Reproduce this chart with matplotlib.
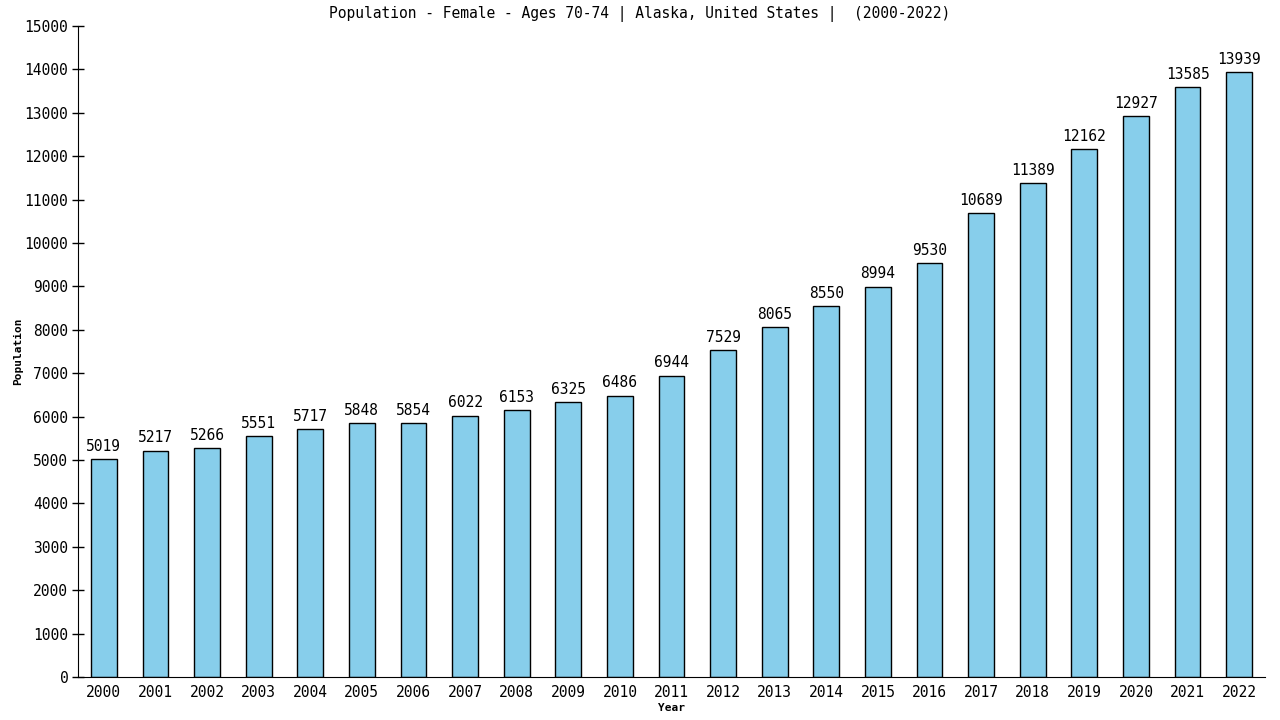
import matplotlib
matplotlib.use("Agg")
import matplotlib.pyplot as plt

years = [str(y) for y in range(2000, 2023)]
population = [5019, 5217, 5266, 5551, 5717, 5848, 5854, 6022, 6153, 6325, 6486, 6944,
              7529, 8065, 8550, 8994, 9530, 10689, 11389, 12162, 12927, 13585, 13939]
y_ticks = list(range(0, 15001, 1000))

plt.rcParams["font.family"] = ["DejaVu Sans Mono"]

fig = plt.figure(figsize=(12.8, 7.2), dpi=100)
ax = fig.add_axes([78 / 1280, 43 / 720, 1187 / 1280, 651 / 720])

x = range(len(years))
ax.bar(x, population, width=0.5, color="#87CEEB", edgecolor="black", linewidth=1)
for xi, v in zip(x, population):
    ax.text(xi, v + 120, str(v), ha="center", va="bottom", fontsize=10.5)

ax.set_xlim(-0.5, len(years) - 0.5)
ax.set_ylim(0, 15000)
ax.set_xticks(list(x))
ax.set_xticklabels(years, fontsize=10.5)
ax.set_yticks(y_ticks)
ax.set_yticklabels([str(t) for t in y_ticks], fontsize=10.5)
ax.tick_params(axis="y", direction="inout", length=8, width=1, color="black", pad=3)
ax.tick_params(axis="x", length=0, pad=6)
ax.spines["top"].set_visible(False)
ax.spines["right"].set_visible(False)
ax.set_xlabel("Year", fontsize=8, fontweight="bold", labelpad=2)
ax.set_ylabel("Population", fontsize=8, fontweight="bold", labelpad=1)
fig.text(0.5, 0.981, "Population - Female - Ages 70-74 | Alaska, United States |  (2000-2022)",
         ha="center", va="center", fontsize=10.5)

fig.savefig("out.png", dpi=100)
